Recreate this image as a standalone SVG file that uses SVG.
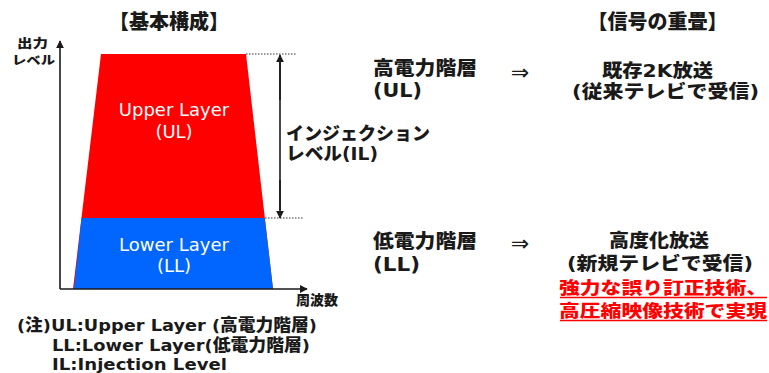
<svg xmlns="http://www.w3.org/2000/svg" width="769" height="373" viewBox="0 0 769 373">
<style>
.b{font-family:"DejaVu Sans","Noto Sans CJK JP",sans-serif;font-weight:900;fill:#1a1a1a}
.j{font-family:"Noto Sans CJK JP",sans-serif;font-weight:900;fill:#1a1a1a}
.w{font-family:"DejaVu Sans","Noto Sans CJK JP",sans-serif;fill:#fff;font-size:18px;text-anchor:middle}
.r{font-family:"Noto Sans CJK JP",sans-serif;font-weight:900;fill:#ff0000;font-size:17px}
.arr{font-family:"DejaVu Sans",sans-serif;font-weight:normal;fill:#1a1a1a;font-size:22px;text-anchor:middle}
.ax{stroke:#1a1a1a;stroke-width:1.6;fill:none}
.dot{stroke:#333;stroke-width:1;stroke-dasharray:1.5 1.5;fill:none}
.ul{stroke:#ff0000;stroke-width:1.5}
</style>
<defs>
<marker id="ah" viewBox="0 0 10 10" refX="9" refY="5" markerWidth="8" markerHeight="8" markerUnits="userSpaceOnUse" orient="auto">
<path d="M0,0 L10,5 L0,10 z" fill="#1a1a1a"/>
</marker>
</defs>
<rect width="769" height="373" fill="#fff"/>
<g id="ul">
<polygon points="101,54 246,54 273,289 73,289" fill="#ff0000"/>
<text class="w" x="174" y="116">Upper Layer</text>
<text class="w" x="174" y="138">(UL)</text>
</g>
<g id="ll">
<polygon points="81.5,218 264.8,218 273,289 74,289" fill="#0066ff"/>
<text class="w" x="174" y="250.5">Lower Layer</text>
<text class="w" x="174" y="272">(LL)</text>
</g>
<g id="connectors">
<line class="ax" x1="60" y1="289" x2="60" y2="41" marker-end="url(#ah)"/>
<line class="ax" x1="60" y1="289" x2="307" y2="289" marker-end="url(#ah)"/>
<line class="dot" x1="246" y1="54" x2="296" y2="54"/>
<line class="dot" x1="265" y1="218" x2="304" y2="218"/>
<line class="ax" x1="280" y1="62" x2="280" y2="210"/>
<line class="ax" x1="280" y1="100" x2="280" y2="55" marker-end="url(#ah)"/>
<line class="ax" x1="280" y1="180" x2="280" y2="218" marker-end="url(#ah)"/>
</g>
<g id="labels-left">
<text class="j" x="169" y="28.5" font-size="20" text-anchor="middle">【基本構成】</text>
<text class="j" x="32.5" y="47.5" font-size="12" text-anchor="middle" textLength="31" lengthAdjust="spacingAndGlyphs">出力</text>
<text class="j" x="33.5" y="65" font-size="12" text-anchor="middle" textLength="43" lengthAdjust="spacingAndGlyphs">レベル</text>
<text class="j" x="296" y="305" font-size="14">周波数</text>
<text class="j" x="286" y="140" font-size="18">インジェクション</text>
<text class="b" x="286" y="160" font-size="18" textLength="92" lengthAdjust="spacingAndGlyphs">レベル(IL)</text>
</g>
<g id="notes">
<text class="b" x="17" y="331" font-size="16.5" textLength="300" lengthAdjust="spacingAndGlyphs">(注)UL:Upper Layer (高電力階層)</text>
<text class="b" x="52" y="351" font-size="16.5" textLength="258" lengthAdjust="spacingAndGlyphs">LL:Lower Layer(低電力階層)</text>
<text class="b" x="52" y="370" font-size="16.5" textLength="175" lengthAdjust="spacingAndGlyphs">IL:Injection Level</text>
</g>
<g id="signal">
<text class="j" x="657.5" y="28.5" font-size="20" text-anchor="middle">【信号の重畳】</text>
</g>
<g id="upper-row">
<text class="b" x="373" y="75" font-size="19" textLength="104" lengthAdjust="spacingAndGlyphs">高電力階層</text>
<text class="b" x="373" y="97" font-size="19" textLength="49" lengthAdjust="spacingAndGlyphs">(UL)</text>
<text class="arr" x="520" y="80">⇒</text>
<text class="b" x="602" y="77" font-size="18" textLength="111" lengthAdjust="spacingAndGlyphs">既存2K放送</text>
<text class="b" x="572" y="98" font-size="18" textLength="187" lengthAdjust="spacingAndGlyphs">(従来テレビで受信)</text>
</g>
<g id="lower-row">
<text class="b" x="373" y="247.5" font-size="19" textLength="104" lengthAdjust="spacingAndGlyphs">低電力階層</text>
<text class="b" x="373" y="271" font-size="19" textLength="47" lengthAdjust="spacingAndGlyphs">(LL)</text>
<text class="arr" x="520" y="251">⇒</text>
<text class="b" x="609" y="247" font-size="18" textLength="100" lengthAdjust="spacingAndGlyphs">高度化放送</text>
<text class="b" x="567" y="270" font-size="18" textLength="186" lengthAdjust="spacingAndGlyphs">(新規テレビで受信)</text>
<text class="r" x="559" y="293.5" textLength="208" lengthAdjust="spacingAndGlyphs">強力な誤り訂正技術、</text>
<line class="ul" x1="560" y1="297.5" x2="767" y2="297.5"/>
<text class="r" x="559" y="316.5" textLength="208" lengthAdjust="spacingAndGlyphs">高圧縮映像技術で実現</text>
<line class="ul" x1="560" y1="320.5" x2="767" y2="320.5"/>
</g>
</svg>
